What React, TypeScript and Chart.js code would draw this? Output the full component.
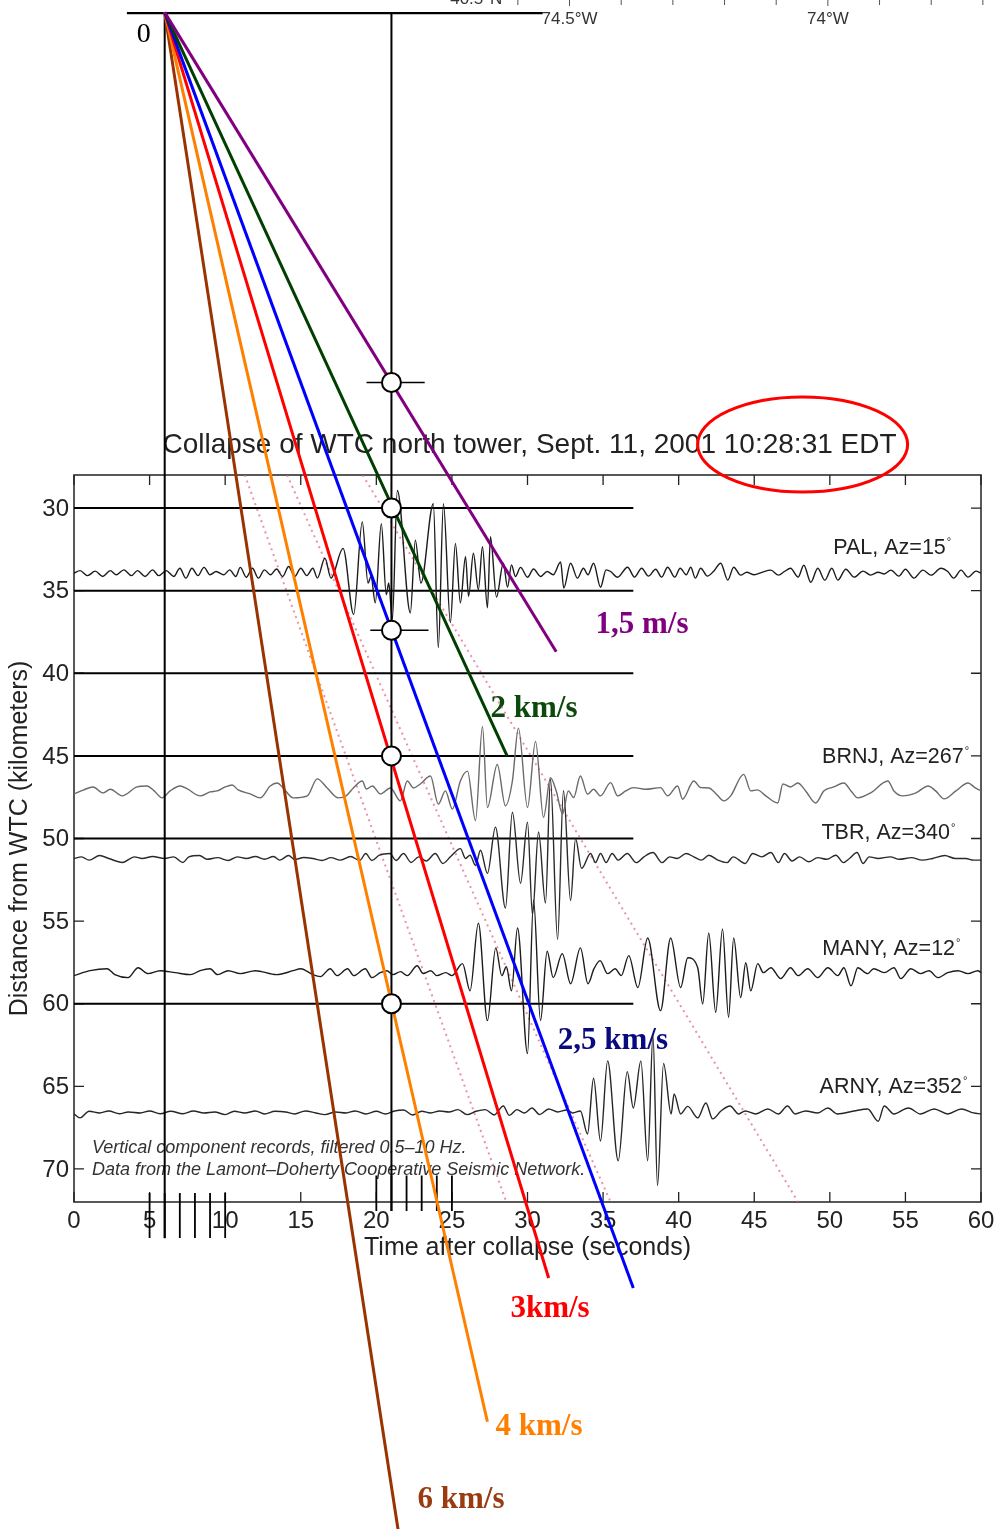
import React, { useEffect, useRef } from "react";
import { Chart, registerables } from "chart.js";

Chart.register(...registerables);

const SANS = '"Liberation Sans", Arial, Helvetica, sans-serif';
const SERIF = '"Liberation Serif", "Times New Roman", Times, serif';

// ---------- axes ----------
const xMin = 0;
const xMax = 60;
const yMin = 28;
const yMax = 72;
const xTickValues = [0, 5, 10, 15, 20, 25, 30, 35, 40, 45, 50, 55, 60];
const yTickValues = [30, 35, 40, 45, 50, 55, 60, 65, 70];

const titleText = "Collapse of WTC north tower, Sept. 11, 2001 10:28:31 EDT";
const xTitle = "Time after collapse (seconds)";
const yTitle = "Distance from WTC (kilometers)";
const noteLines = [
  "Vertical component records, filtered 0.5\u201310 Hz.",
  "Data from the Lamont\u2013Doherty Cooperative Seismic Network.",
];

// ---------- stations ----------
const stationNames = ["PAL, Az=15°", "BRNJ, Az=267°", "TBR, Az=340°", "MANY, Az=12°", "ARNY, Az=352°"];
const stationBaselines = [33.94, 47.12, 51.21, 58.12, 66.61];
const stationColors = ["#1c1c1c", "#6a6a6a", "#2a2a2a", "#1c1c1c", "#262626"];

// [time s, upward deflection in km]
const palTrace = [
  [0,0],[0.4,0.15],[0.9,-0.15],[1.4,0.12],[1.9,-0.2],[2.4,0.15],[2.8,-0.1],[3.3,0.2],[3.8,-0.15],[4.2,0.15],[4.7,-0.2],[5.2,0.2],[5.6,-0.15],[6.1,0.15],[6.6,-0.2],[7.0,0.3],[7.4,-0.3],[7.8,0.3],[8.2,-0.15],[8.6,0.35],[9.0,-0.1],[9.4,0.1],[9.9,-0.1],[10.3,0.2],[10.7,-0.2],[11.0,0.35],[11.4,-0.25],[11.8,0.3],[12.2,-0.3],[12.6,0.2],[13.0,-0.1],[13.4,0.25],[13.8,-0.2],[14.2,0.4],[14.6,-0.2],[15.0,0.3],[15.4,-0.15],[15.8,0.3],[16.1,-0.3],[16.6,0.9],[17.0,-0.3],[17.8,1.5],[18.5,-2.5],[19.07,3.1],[19.45,-0.6],[19.65,-0.2],[19.93,-1.8],[20.33,3.0],[20.66,-1.3],[20.82,-0.6],[21.06,-2.8],[21.39,5.0],[22.25,-2.4],[22.58,2.0],[22.95,-0.6],[23.77,4.2],[24.1,-4.5],[24.44,4.2],[24.9,-3.0],[25.23,1.8],[25.56,-1.8],[25.9,1.0],[26.1,-1.4],[26.42,1.2],[26.75,-1.0],[27.02,1.6],[27.35,-2.1],[27.55,2.2],[27.95,-1.45],[28.4,0.6],[28.68,-0.85],[28.94,0.5],[29.2,-0.2],[29.54,0.35],[30.0,-0.25],[30.4,0.25],[30.86,-0.2],[31.3,0.1],[31.7,-0.1],[32.19,0.67],[32.4,-0.9],[32.85,0.6],[33.3,-0.3],[33.7,0.3],[34.0,-0.1],[34.37,0.6],[34.83,-0.85],[35.2,0.2],[35.5,0.1],[35.96,-0.25],[36.62,0.36],[37.08,-0.24],[37.55,0.3],[38.0,-0.18],[38.48,0.24],[38.87,-0.24],[39.27,0.36],[39.74,-0.24],[40.1,0.3],[40.5,-0.1],[40.8,0.36],[41.1,-0.3],[41.46,0.3],[41.9,-0.18],[42.3,0.1],[42.78,0.6],[43.25,-0.42],[43.64,0.36],[44.1,-0.12],[44.5,0.05],[45.0,-0.1],[45.5,0.05],[46.1,0.18],[46.6,-0.12],[47.0,0.1],[47.4,0.3],[47.9,-0.24],[48.28,0.48],[48.74,-0.55],[49.2,0.3],[49.67,-0.42],[50.13,0.3],[50.53,-0.42],[51.06,0.24],[51.6,-0.24],[52.2,0.12],[52.7,-0.12],[53.2,0.05],[53.6,-0.05],[54.04,0.18],[54.57,-0.18],[55.0,0.24],[55.56,-0.3],[56.16,0.18],[56.7,-0.12],[57.35,0.3],[57.8,0.1],[58.2,-0.3],[58.68,0.18],[59.14,-0.24],[59.67,0.12],[60,0],
];

const brnjTrace = [
  [0,-0.18],[0.6,0.05],[1.26,0.24],[1.92,-0.12],[2.4,0.1],[3.18,-0.3],[4.17,0.24],[4.83,0.3],[5.3,0],[5.83,-0.42],[6.36,0],[7.02,0.3],[7.5,0.12],[8.34,-0.3],[9.0,-0.06],[9.47,0],[10.0,0.24],[10.46,0.36],[10.86,0.06],[11.66,-0.18],[12.32,-0.42],[12.98,0.3],[13.44,0.48],[13.84,0.18],[14.5,-0.42],[15.43,-0.3],[16.09,0.73],[16.75,0.18],[17.48,-0.42],[18.0,-0.3],[18.48,0.18],[19.07,0.6],[19.34,0.12],[19.74,0.3],[20.26,-0.18],[20.93,0.18],[21.59,-0.6],[22.05,0.6],[22.45,0.18],[22.91,0.42],[23.58,0.9],[24.1,-0.8],[24.57,0],[25.03,-1.1],[25.56,0.6],[26.03,1.2],[26.56,-1.8],[27.02,3.9],[27.35,-1.0],[28.0,1.6],[28.54,-0.9],[29.0,0.6],[29.4,3.8],[30.0,-1.0],[30.53,3.0],[31.06,-1.6],[31.52,0.8],[31.9,0],[32.32,-1.4],[32.7,0],[33.05,-0.4],[33.5,0.9],[33.97,-0.2],[34.37,0.1],[34.83,-0.3],[35.5,0.5],[35.96,-0.3],[36.5,0],[37.0,0.2],[37.8,0.1],[38.8,0.2],[39.27,-0.3],[39.93,0.3],[40.26,-0.5],[41.0,0.6],[41.46,0.2],[41.99,0.18],[42.5,-0.2],[42.98,-0.6],[43.44,-0.3],[44.3,1.0],[44.77,0],[45.2,0.06],[45.76,-0.3],[46.56,-0.73],[46.89,0.42],[47.4,0.24],[47.88,0.48],[48.4,0],[49.07,-0.73],[49.6,0],[50.26,0.24],[50.93,0.48],[51.4,0],[51.85,-0.42],[52.7,-0.12],[53.84,0.6],[54.24,0],[54.83,-0.3],[55.7,-0.12],[56.5,0.3],[57.0,0],[57.55,-0.48],[58.34,0],[59.14,0.48],[59.6,0.2],[60,0],
];

const tbrTrace = [
  [0,0],[0.5,0.1],[1.0,-0.1],[1.7,0.18],[2.3,0.0],[3.2,-0.24],[4.0,0.1],[4.5,0.0],[5.2,0.12],[6.0,0.0],[6.6,0.1],[7.2,-0.24],[7.6,0.1],[8.3,0.18],[8.8,-0.05],[9.5,0.05],[10.2,-0.12],[10.8,0.1],[11.4,0.0],[12.0,0.12],[12.6,-0.05],[13.2,0.12],[13.6,-0.1],[14.2,0.18],[14.6,-0.06],[15.2,0.06],[15.8,0.0],[16.4,-0.12],[17.0,0.05],[17.6,-0.1],[18.3,0.12],[18.9,-0.12],[19.3,0.3],[19.7,-0.12],[20.2,0.2],[20.9,0.3],[21.3,-0.12],[21.8,0.3],[22.3,-0.24],[22.8,0.1],[23.3,-0.15],[23.9,0.3],[24.4,-0.3],[24.9,0.1],[25.56,0.6],[25.9,0.0],[26.2,0.2],[26.56,-0.42],[26.89,0.5],[27.35,-0.9],[27.88,1.9],[28.54,-3.0],[29.0,2.8],[29.54,-1.5],[30.0,2.2],[30.33,-3.4],[30.73,1.6],[31.19,-2.7],[31.52,4.8],[31.99,-4.9],[32.38,4.1],[32.85,-2.55],[33.18,1.2],[33.58,-0.6],[34.17,0.3],[34.5,-0.25],[34.83,0.3],[35.2,-0.25],[35.6,0.3],[36.0,-0.1],[36.6,0.3],[37.2,-0.25],[37.7,0.1],[38.3,0.36],[38.9,-0.25],[39.4,0.1],[39.9,0.0],[40.5,0.3],[41.0,0.1],[41.5,-0.1],[42.0,0.2],[42.6,-0.1],[43.2,-0.25],[43.6,0.1],[44.4,-0.3],[44.9,0.3],[45.5,0.1],[46.1,0.36],[46.6,-0.25],[47.0,0.3],[47.5,-0.15],[48.0,0.1],[48.6,-0.2],[49.2,0.05],[49.8,-0.05],[50.4,0.2],[50.9,-0.25],[51.3,0.0],[51.8,0.36],[52.2,-0.3],[52.6,0.1],[53.2,0.0],[54.0,0.1],[54.6,-0.05],[55.4,0.05],[56.1,-0.1],[56.8,0.0],[57.6,0.18],[58.3,0.0],[59.0,0.0],[59.5,-0.1],[60,-0.1],
];

const manyTrace = [
  [0,-0.18],[1.06,0.12],[2.19,0.24],[2.7,-0.12],[3.58,-0.3],[4.24,0.3],[4.9,-0.06],[5.7,0.12],[6.7,0],[7.7,-0.12],[8.34,0.12],[9.0,0.24],[9.5,-0.12],[10.2,0.12],[11.0,-0.06],[12.0,0.12],[13.4,-0.12],[14.5,0.12],[15.0,0.24],[15.8,-0.12],[16.3,-0.24],[16.95,0.24],[17.4,-0.18],[18.1,0.24],[18.5,-0.18],[19.27,0.24],[19.7,-0.3],[20.26,0],[20.7,0.12],[21.1,-0.12],[21.6,0.06],[22.05,-0.18],[22.7,0.42],[23.1,-0.06],[23.6,0.12],[24.0,-0.18],[24.6,0],[25.0,-0.18],[25.7,0.55],[26.2,-1.1],[26.75,3.0],[27.35,-2.9],[27.9,1.5],[28.3,-0.18],[28.6,0.36],[28.94,-1.1],[29.34,2.7],[30.0,-4.9],[30.4,4.4],[30.86,-2.9],[31.3,1.3],[31.7,-0.3],[32.3,1.15],[32.85,-0.67],[33.5,1.5],[34.0,-0.67],[34.4,0.24],[34.8,0.73],[35.3,-0.06],[35.8,0.24],[36.2,-0.18],[36.7,1.03],[37.3,-0.9],[37.95,2.1],[38.8,-2.3],[39.47,2.1],[40.13,-0.9],[40.6,0.9],[41.26,0.3],[41.59,-1.9],[41.99,2.4],[42.45,-2.4],[42.9,2.65],[43.3,-2.7],[43.64,2.1],[44.1,-1.5],[44.44,0.6],[44.77,-1.1],[45.23,0.55],[45.6,0],[46.1,0.3],[46.75,-0.36],[47.4,0.3],[47.9,-0.18],[48.54,0.24],[49.2,-0.3],[49.87,0.3],[50.53,-0.18],[50.93,0.3],[51.4,-0.8],[51.85,0.3],[52.5,-0.06],[52.9,0.24],[53.6,0],[54.24,0.3],[54.7,-0.36],[55.36,0.24],[56.0,-0.06],[56.56,0.12],[57.15,-0.3],[57.8,0],[58.48,0.12],[59.14,-0.06],[59.8,0.12],[60,0],
];

const arnyTrace = [
  [0,-0.06],[0.4,-0.3],[1.0,0.1],[1.7,0.0],[2.3,0.12],[3.0,-0.05],[3.6,0.06],[4.4,0.0],[5.0,0.12],[5.7,-0.05],[6.4,0.1],[7.2,-0.05],[7.9,0.12],[8.6,0.0],[9.3,0.06],[10.0,-0.1],[10.6,0.1],[11.3,0.0],[12.0,0.12],[12.6,-0.06],[13.3,0.1],[14.0,0.06],[14.6,-0.06],[15.3,0.12],[16.0,0.0],[16.6,-0.1],[17.3,0.06],[18.0,0.0],[18.6,0.12],[19.3,-0.06],[20.0,0.1],[20.6,-0.06],[21.2,0.12],[21.8,0.18],[22.4,-0.12],[23.0,0.1],[23.6,0.0],[24.2,0.12],[24.8,0.06],[25.4,0.2],[26.0,-0.1],[26.6,0.1],[27.2,0.2],[27.8,-0.12],[28.4,0.42],[28.8,-0.15],[29.3,0.2],[29.8,0.0],[30.3,0.3],[30.8,-0.1],[31.4,0.24],[32.0,0.06],[32.6,0.18],[33.0,0.0],[33.5,0.12],[33.97,-1.27],[34.37,2.1],[34.83,-1.7],[35.3,3.15],[36.0,-2.9],[36.6,2.5],[37.0,0.3],[37.5,3.15],[37.95,-2.9],[38.3,4.7],[38.6,-4.4],[39.0,3.0],[39.5,-0.06],[39.7,1.15],[40.13,-0.06],[40.6,0.4],[41.26,-0.3],[41.8,0.6],[42.25,-0.36],[42.8,0.12],[43.4,0.42],[43.97,-0.06],[44.4,0.12],[45.1,-0.06],[45.9,0.24],[46.6,-0.06],[47.2,0.42],[47.7,-0.06],[48.4,0.12],[49.2,0.0],[49.87,0.3],[50.5,-0.06],[51.6,0.12],[52.5,0.24],[53.2,-0.5],[53.6,0.42],[54.24,-0.06],[55.2,0.3],[56.0,-0.06],[56.9,0.24],[57.8,-0.06],[58.7,0.24],[59.5,0],[60,-0.06],
];

const stationTraces = [palTrace, brnjTrace, tbrTrace, manyTrace, arnyTrace];

// ---------- move-out lines from the collapse origin ----------
const originTime = 6;
const originDist = 0;
const speedLabels = ["1,5 m/s", "2 km/s", "2,5 km/s", "3km/s", "4 km/s", "6 km/s"];
const speedEndTimes = [31.9, 28.65, 37.0, 31.4, 27.35, 21.45];
const speedEndDists = [38.7, 45.0, 77.2, 76.6, 85.3, 91.9];
const speedLineColors = ["#800080", "#003f00", "#0000ff", "#ff0000", "#ff7f00", "#993300"];
const speedLabelColors = ["#800080", "#0b4a0b", "#0a0a80", "#ff0000", "#ff7f00", "#9a3a10"];

// picks on the 21 s line
const pickTime = 21;
const pickDists = [22.4, 30, 37.4, 45, 60];
const crossDists = [22.4, 37.4];
const crossStarts = [19.35, 19.6];
const crossEnds = [23.2, 23.45];

// horizontal reference lines
const guideDists = [30, 35, 40, 45, 50, 60];
const guideEndTime = 37;

// dotted move-out lines (start / end inside the frame)
const dottedStartTimes = [11.3, 14.1, 19.1];
const dottedEndTimes = [28.6, 35.5, 47.9];

// vertical marker lines and tick groups
const markerTimes = [6, 21];
const markerTopDist = 0.05;
const markerBottomDists = [74.2, 72.55];
const tickGroupA = [5, 6, 7, 8, 9, 10];
const tickGroupB = [20, 21, 22, 23, 24, 25];
const tickGroupARange = [71.45, 74.18];
const tickGroupBRange = [70.4, 72.55];
const mapFrameTimes = [3.5, 31.0];

// map frame (longitude) ticks along the very top
const mapTickLons = [-74.6, -74.5, -74.4, -74.3, -74.2, -74.1, -74.0, -73.9, -73.8, -73.7];
const mapLabelLons = [-74.5, -74.0];
const mapLabelTexts = ["74.5°W", "74°W"];
const mapLatLabel = "40.5°N";

// label anchors (data coords)
const speedLabelTimes = [34.5, 27.55, 32.0, 28.87, 27.88, 22.72];
const speedLabelDists = [37.58, 42.67, 62.73, 78.97, 86.12, 90.55];
const stationLabelTimes = [58.07, 59.25, 58.34, 58.68, 59.14];
const stationLabelDists = [32.42, 45.05, 49.7, 56.67, 65.03];

const seg = (x1: number, y1: number, x2: number, y2: number) => [
  { x: x1, y: y1 },
  { x: x2, y: y2 },
];

function buildDatasets() {
  const ds: any[] = [];
  crossDists.forEach((d, i) =>
    ds.push({
      data: seg(crossStarts[i], d, crossEnds[i], d),
      showLine: true,
      borderColor: "#000",
      borderWidth: 1.6,
      pointRadius: 0,
      clip: false,
      order: 1,
    })
  );
  speedEndTimes.forEach((t, i) =>
    ds.push({
      data: seg(originTime, originDist, t, speedEndDists[i]),
      showLine: true,
      borderColor: speedLineColors[i],
      borderWidth: 3,
      pointRadius: 0,
      clip: false,
      order: 2,
    })
  );
  markerTimes.forEach((t, i) =>
    ds.push({
      data: seg(t, markerTopDist, t, markerBottomDists[i]),
      showLine: true,
      borderColor: "#000",
      borderWidth: 2,
      pointRadius: 0,
      clip: false,
      order: 3,
    })
  );
  tickGroupA.forEach((t) =>
    ds.push({
      data: seg(t, tickGroupARange[0], t, tickGroupARange[1]),
      showLine: true,
      borderColor: "#000",
      borderWidth: 1.8,
      pointRadius: 0,
      clip: false,
      order: 3,
    })
  );
  tickGroupB.forEach((t) =>
    ds.push({
      data: seg(t, tickGroupBRange[0], t, tickGroupBRange[1]),
      showLine: true,
      borderColor: "#000",
      borderWidth: 1.8,
      pointRadius: 0,
      clip: false,
      order: 3,
    })
  );
  ds.push({
    data: seg(mapFrameTimes[0], markerTopDist, mapFrameTimes[1], markerTopDist),
    showLine: true,
    borderColor: "#000",
    borderWidth: 2.2,
    pointRadius: 0,
    clip: false,
    order: 3,
  });
  stationTraces.forEach((tr, i) =>
    ds.push({
      data: tr.map(([t, a]) => ({ x: t, y: stationBaselines[i] - a })),
      showLine: true,
      borderColor: stationColors[i],
      borderWidth: 1.4,
      pointRadius: 0,
      cubicInterpolationMode: "monotone",
      order: 4,
    })
  );
  guideDists.forEach((d) =>
    ds.push({
      data: seg(xMin, d, guideEndTime, d),
      showLine: true,
      borderColor: "#000",
      borderWidth: 2,
      pointRadius: 0,
      order: 5,
    })
  );
  dottedStartTimes.forEach((t, i) =>
    ds.push({
      data: seg(t, yMin, dottedEndTimes[i], yMax),
      showLine: true,
      borderColor: "rgba(225,100,130,0.7)",
      borderWidth: 2,
      borderDash: [2, 4],
      pointRadius: 0,
      order: 6,
    })
  );
  return ds;
}

const decorPlugin = {
  id: "decor",
  beforeDraw(chart: any) {
    const { ctx, width, height } = chart;
    ctx.save();
    ctx.fillStyle = "#ffffff";
    ctx.fillRect(0, 0, width, height);
    ctx.restore();
  },
  beforeDatasetsDraw(chart: any) {
    const { ctx, chartArea: a, scales } = chart;
    const X = (v: number) => scales.x.getPixelForValue(v);
    const Y = (v: number) => scales.y.getPixelForValue(v);
    ctx.save();

    // frame
    ctx.strokeStyle = "#222";
    ctx.lineWidth = 1.5;
    ctx.strokeRect(a.left, a.top, a.right - a.left, a.bottom - a.top);

    // ticks and tick labels
    ctx.lineWidth = 1.3;
    ctx.fillStyle = "#222";
    ctx.font = `24px ${SANS}`;
    ctx.textAlign = "center";
    ctx.textBaseline = "middle";
    xTickValues.forEach((v) => {
      const px = X(v);
      ctx.beginPath();
      ctx.moveTo(px, a.bottom);
      ctx.lineTo(px, a.bottom - 10);
      ctx.moveTo(px, a.top);
      ctx.lineTo(px, a.top + 10);
      ctx.stroke();
      ctx.fillText(String(v), px, a.bottom + 19);
    });
    ctx.textAlign = "right";
    yTickValues.forEach((v) => {
      const py = Y(v);
      ctx.beginPath();
      ctx.moveTo(a.left, py);
      ctx.lineTo(a.left + 10, py);
      ctx.moveTo(a.right, py);
      ctx.lineTo(a.right - 10, py);
      ctx.stroke();
      ctx.fillText(String(v), a.left - 5, py + 1);
    });

    // axis titles
    ctx.textAlign = "center";
    ctx.font = `25px ${SANS}`;
    ctx.fillText(xTitle, (a.left + a.right) / 2, a.bottom + 46);
    ctx.save();
    ctx.translate(20, (a.top + a.bottom) / 2);
    ctx.rotate(-Math.PI / 2);
    ctx.font = `25px ${SANS}`;
    ctx.fillText(yTitle, 0, 0);
    ctx.restore();

    // chart title
    ctx.font = `28px ${SANS}`;
    ctx.fillText(titleText, (a.left + a.right) / 2 + 2, a.top - 30);

    // station labels
    stationNames.forEach((name, i) => {
      const hasDeg = name.endsWith("°");
      const main = hasDeg ? name.slice(0, -1) : name;
      const rx = X(stationLabelTimes[i]);
      const cy = Y(stationLabelDists[i]);
      ctx.font = `21.5px ${SANS}`;
      ctx.textAlign = "right";
      ctx.textBaseline = "middle";
      ctx.fillStyle = "#222";
      ctx.fillText(main, rx - 6, cy);
      if (hasDeg) {
        ctx.font = `11px ${SANS}`;
        ctx.textAlign = "left";
        ctx.fillText("°", rx - 5, cy - 6);
      }
    });

    // notes
    ctx.font = `italic 18px ${SANS}`;
    ctx.textAlign = "left";
    ctx.textBaseline = "alphabetic";
    ctx.fillStyle = "#333";
    noteLines.forEach((line, i) => ctx.fillText(line, a.left + 18, a.bottom - 49 + i * 22));

    // speed labels
    ctx.font = `bold 31px ${SERIF}`;
    speedLabels.forEach((lab, i) => {
      ctx.fillStyle = speedLabelColors[i];
      ctx.fillText(lab, X(speedLabelTimes[i]), Y(speedLabelDists[i]));
    });

    // origin label
    ctx.fillStyle = "#000";
    ctx.font = `28px ${SERIF}`;
    ctx.textAlign = "center";
    ctx.textBaseline = "middle";
    ctx.fillText("0", X(originTime) - 21, Y(originDist) + 22);

    // map frame ticks along the top
    const lonToTime = (lon: number) => 32.78 + (lon + 74.5) * 34.18;
    ctx.strokeStyle = "#555";
    ctx.lineWidth = 1;
    mapTickLons.forEach((lon) => {
      const px = X(lonToTime(lon));
      const major = mapLabelLons.some((m) => Math.abs(m - lon) < 1e-6);
      ctx.beginPath();
      ctx.moveTo(px, 0);
      ctx.lineTo(px, major ? 6 : 5);
      ctx.stroke();
    });
    ctx.fillStyle = "#333";
    ctx.font = `17px ${SANS}`;
    ctx.textAlign = "center";
    ctx.textBaseline = "middle";
    mapLabelLons.forEach((lon, i) => ctx.fillText(mapLabelTexts[i], X(lonToTime(lon)), 19.5));
    ctx.textAlign = "right";
    ctx.textBaseline = "alphabetic";
    ctx.fillText(mapLatLabel, X(lonToTime(-74.63)), 4);

    ctx.restore();
  },
  afterDatasetsDraw(chart: any) {
    const { ctx, scales } = chart;
    // pick circles on the 21 s line
    ctx.save();
    ctx.fillStyle = "#ffffff";
    ctx.strokeStyle = "#000000";
    ctx.lineWidth = 2;
    pickDists.forEach((d) => {
      const px = scales.x.getPixelForValue(pickTime);
      const py = scales.y.getPixelForValue(d);
      ctx.beginPath();
      ctx.arc(px, py, 9.5, 0, Math.PI * 2);
      ctx.fill();
      ctx.stroke();
    });
    ctx.restore();
  },
  afterDraw(chart: any) {
    const { ctx, scales } = chart;
    const cx = scales.x.getPixelForValue(48.2);
    const cy = scales.y.getPixelForValue(26.15);
    ctx.save();
    ctx.strokeStyle = "#ff0000";
    ctx.lineWidth = 3;
    ctx.beginPath();
    ctx.ellipse(cx, cy, 105, 47.5, 0, 0, Math.PI * 2);
    ctx.stroke();
    ctx.restore();
  },
};

export default function App() {
  const ref = useRef<HTMLCanvasElement | null>(null);
  useEffect(() => {
    if (!ref.current) return;
    const chart = new Chart(ref.current, {
      type: "scatter",
      data: { datasets: buildDatasets() },
      options: {
        animation: false,
        responsive: false,
        devicePixelRatio: 1,
        events: [],
        layout: { padding: { left: 74, top: 475, right: 21, bottom: 327 } },
        scales: {
          x: { type: "linear", min: xMin, max: xMax, display: false },
          y: { type: "linear", min: yMin, max: yMax, reverse: true, display: false },
        },
        plugins: { legend: { display: false }, tooltip: { enabled: false } },
      },
      plugins: [decorPlugin],
    } as any);
    return () => chart.destroy();
  }, []);
  return (
    <div style={{ position: "absolute", left: 0, top: 0, width: 1002, height: 1529, background: "#fff" }}>
      <canvas ref={ref} width={1002} height={1529} style={{ display: "block", width: 1002, height: 1529 }} />
    </div>
  );
}
